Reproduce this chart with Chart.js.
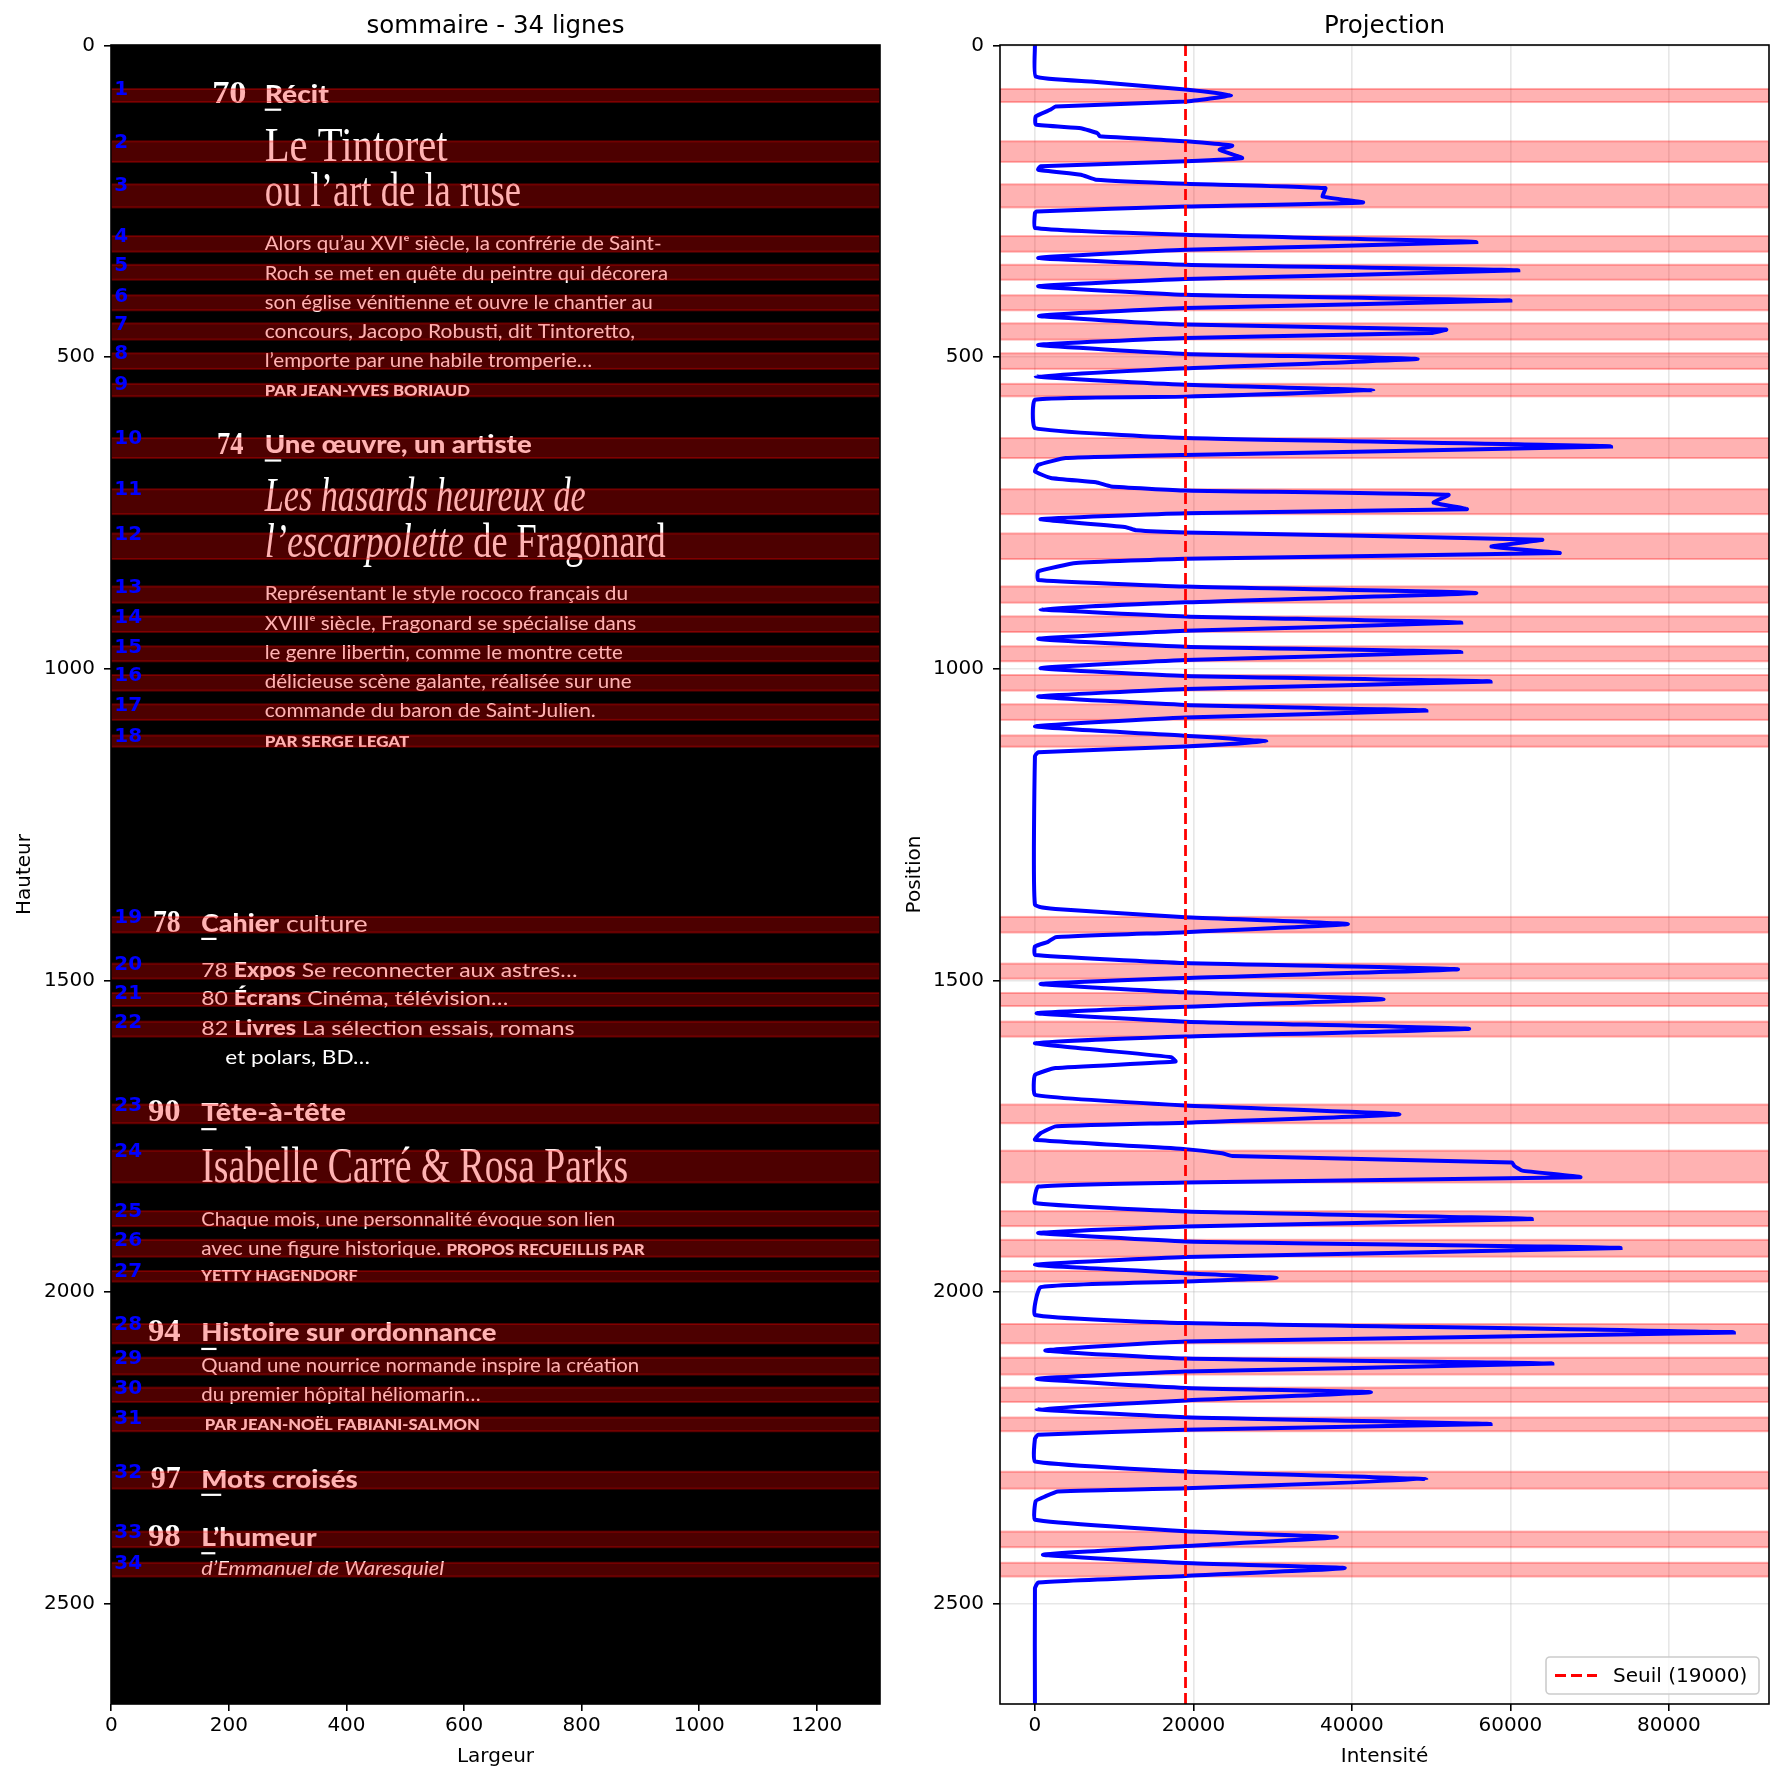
<!DOCTYPE html>
<html lang="fr">
<head>
  <meta charset="UTF-8">
  <title>sommaire - 34 lignes</title>
  <script src="https://cdn.jsdelivr.net/npm/chart.js"></script>
  <style>
    html, body { margin: 0; padding: 0; background: #fff; }
    #wrap { position: relative; width: 1783px; height: 1785px; }
    canvas { position: absolute; top: 0; }
    #left { left: 0; }
    #right { left: 890px; }
  </style>
</head>
<body>
<div id="wrap">
  <canvas id="left" width="890" height="1785"></canvas>
  <canvas id="right" width="893" height="1785"></canvas>
</div>
<script>
  // image size (pixels) of the scanned page
  const imgWidth = 1308;
  const imgHeight = 2661;

  // detected text lines: first and last row of each band
  const bandStart = [70, 154, 223, 306, 352, 401, 446, 494, 543, 630, 712, 783, 868, 916, 964, 1010, 1057, 1107,
    1398, 1473, 1520, 1566, 1699, 1773, 1870, 1916, 1966, 2051, 2105, 2153, 2201, 2288, 2384, 2434];
  const bandEnd = [91, 187, 260, 331, 376, 425, 472, 519, 563, 662, 752, 824, 894, 941, 988, 1035, 1082, 1125,
    1423, 1497, 1541, 1590, 1729, 1824, 1894, 1943, 1983, 2082, 2132, 2176, 2223, 2315, 2409, 2456];

  // horizontal projection profile (row position, summed intensity)
  const profilePos = [0, 50, 58, 71, 80, 90, 98, 103, 114, 127, 133, 141, 146, 154, 161, 167.5, 181, 186, 194, 199.5,
    207.5, 215.5, 222, 229, 242.5, 252, 258.5, 266.5, 269, 293, 304, 315.5, 328, 341, 352, 361, 375, 386.5, 400, 409.5,
    421.5, 434, 448, 456, 461.5, 469.5, 480.5, 495, 503, 518, 531, 544.5, 553.5, 563.5, 568.5, 614, 630, 643.5, 657, 662,
    673, 683.5, 694, 701, 707.5, 714, 721, 733.5, 744, 750.5, 760, 773, 778, 781.5, 793, 804, 814.5, 823.5, 830.5, 844,
    857.5, 868, 878.5, 893.5, 904.5, 916, 926, 939, 952, 964.5, 973, 986, 999, 1011.5, 1020.5, 1032.5, 1044.5, 1058, 1067, 1078,
    1092.5, 1107.5, 1116.5, 1124.5, 1134, 1140, 1378.5, 1385.5, 1398.5, 1409.5, 1422.5, 1430.5, 1438, 1445.5, 1459, 1472,
    1482, 1496, 1505.5, 1519, 1530, 1542, 1552.5, 1566, 1577.5, 1590, 1600.5, 1623, 1630, 1640.5, 1651.5, 1683.5, 1700.5, 1714.5,
    1728, 1734, 1745, 1755.5, 1770.5, 1777, 1781.5, 1792, 1797.5, 1805, 1815.5, 1824, 1830.5, 1857, 1870.5, 1882.5, 1894.5, 1905,
    1918.5, 1929, 1943.5, 1956, 1969.5, 1977, 1983, 1992, 2036.5, 2049.5, 2064.5, 2079, 2093.5, 2106.5, 2114.5, 2127, 2139,
    2153.5, 2160.5, 2173.5, 2187.5, 2200.5, 2211.5, 2220.5, 2228.5, 2235, 2271.5, 2287.5, 2300, 2314.5, 2319.5, 2327.5, 2335,
    2365, 2383.5, 2393, 2407, 2421, 2434.5, 2442.5, 2455, 2465.5, 2475, 2660];
  const profileVal = [0, 100, 7060, 19000, 24750, 19000, 2600, 2000, 100, 100, 5800, 7900, 8200, 19000, 24900, 23300, 26150, 19000, 700, 400,
    5800, 7700, 19000, 36650, 36300, 41400, 19000, 200, 0, 0, 19000, 55700, 19000, 400, 19000, 61000, 19000, 400, 19000, 60000,
    19000, 500, 19000, 51900, 50000, 19000, 400, 19000, 48300, 19000, 100, 19000, 42700, 19000, 0, 0, 19000, 72700, 19000, 3900,
    400, 0, 2000, 7700, 9600, 19000, 52200, 50300, 54500, 19000, 700, 11500, 12800, 19000, 64000, 57600, 66200, 19000, 5200, 400,
    400, 19000, 55700, 19000, 700, 19000, 53800, 19000, 400, 19000, 53800, 19000, 700, 19000, 57500, 19000, 400, 19000, 49400, 19000,
    0, 19000, 29200, 19000, 400, 0, 0, 2600, 19000, 39500, 19000, 2600, 1650, 0, 0, 19000,
    53400, 19000, 700, 19000, 44000, 19000, 200, 19000, 54800, 19000, 0, 17200, 17750, 2600, 0, 0, 19000, 46000,
    19000, 2600, 700, 0, 19000, 23600, 24900, 60200, 60500, 61500, 68800, 19000, 400, 0, 19000, 62700, 19000, 400,
    19000, 73900, 19000, 0, 19000, 30500, 19000, 700, 0, 19000, 88200, 19000, 1300, 19000, 65300, 19000, 200,
    19000, 42400, 19000, 200, 19000, 57500, 19000, 400, 0, 0, 19000, 49400, 19000, 2900, 1300, 100,
    0, 19000, 38100, 19000, 1000, 19000, 39100, 19000, 400, 0, 0];

  const threshold = 19000;

  const posTicks = [0, 500, 1000, 1500, 2000, 2500];
  const widthTicks = [0, 200, 400, 600, 800, 1000, 1200];
  const intensityTicks = [0, 20000, 40000, 60000, 80000];

  // text printed on the page: [x from, x to, baseline row, size, parts]
  const pageLines = [
    [171.6, 230, 92.6, 52, [['70', 'num']]],
    [261, 370, 92.6, 38, [['Récit', 'head']]],
    [261, 572, 186, 78, [['Le Tintoret', 'title']]],
    [261, 697, 257, 78, [['ou l’art de la ruse', 'title']]],
    [261, 936, 329, 31, [['Alors qu’au XVIᵉ siècle, la confrérie de Saint-', 'body']]],
    [261, 947, 376, 31, [['Roch se met en quête du peintre qui décorera', 'body']]],
    [261, 921, 423, 31, [['son église vénitienne et ouvre le chantier au', 'body']]],
    [261, 891, 469.6, 31, [['concours, Jacopo Robusti, dit Tintoretto,', 'body']]],
    [261, 818, 516, 31, [['l’emporte par une habile tromperie…', 'body']]],
    [261, 610, 562, 25, [['PAR JEAN-YVES BORIAUD', 'caps']]],
    [180, 225, 656, 52, [['74', 'num']]],
    [261, 715, 654, 38, [['Une œuvre, un artiste', 'head']]],
    [261, 807, 747.7, 78, [['Les hasards heureux de', 'titleI']]],
    [261, 943, 820, 78, [['l’escarpolette', 'titleI'], [' de Fragonard', 'title']]],
    [261, 879, 890.5, 31, [['Représentant le style rococo français du', 'body']]],
    [261, 893, 937.5, 31, [['XVIIIᵉ siècle, Fragonard se spécialise dans', 'body']]],
    [261, 870, 984.6, 31, [['le genre libertin, comme le montre cette', 'body']]],
    [261, 885, 1031, 31, [['délicieuse scène galante, réalisée sur une', 'body']]],
    [261, 824, 1078, 31, [['commande du baron de Saint-Julien.', 'body']]],
    [261, 507, 1124.7, 25, [['PAR SERGE LEGAT', 'caps']]],
    [71, 118, 1423, 52, [['78', 'num']]],
    [153, 436, 1421.5, 38, [['Cahier', 'head'], [' culture', 'body']]],
    [153, 793, 1493.7, 32, [['78 ', 'body'], ['Expos', 'bodyB'], [' Se reconnecter aux astres…', 'body']]],
    [153, 675, 1540, 32, [['80 ', 'body'], ['Écrans', 'bodyB'], [' Cinéma, télévision…', 'body']]],
    [153, 788, 1587.2, 32, [['82 ', 'body'], ['Livres', 'bodyB'], [' La sélection essais, romans', 'body']]],
    [194, 440, 1633.7, 32, [['et polars, BD…', 'body']]],
    [62.5, 118, 1726, 52, [['90', 'num']]],
    [153, 399, 1726, 38, [['Tête-à-tête', 'head']]],
    [153, 879, 1822.6, 80, [['Isabelle Carré & Rosa Parks', 'title']]],
    [153, 857, 1893, 31, [['Chaque mois, une personnalité évoque son lien', 'body']]],
    [153, 907, 1940, 31, [['avec une figure historique. ', 'body'], ['PROPOS RECUEILLIS PAR', 'caps', 25]]],
    [153, 419, 1982, 25, [['YETTY HAGENDORF', 'caps']]],
    [62.5, 118, 2079, 52, [['94', 'num']]],
    [153, 655, 2079, 38, [['Histoire sur ordonnance', 'head']]],
    [153, 898, 2127.4, 31, [['Quand une nourrice normande inspire la création', 'body']]],
    [153, 628, 2174, 31, [['du premier hôpital héliomarin…', 'body']]],
    [159, 627, 2221, 25, [['PAR JEAN-NOËL FABIANI-SALMON', 'caps']]],
    [67, 118, 2314.5, 52, [['97', 'num']]],
    [153, 419, 2314.5, 38, [['Mots croisés', 'head']]],
    [62.5, 118, 2407, 52, [['98', 'num']]],
    [153, 349, 2407, 38, [['L’humeur', 'head']]],
    [153, 566, 2453.5, 31, [['d’Emmanuel de Waresquiel', 'bodyI']]]
  ];
  // little dashes under the section heads: [x from, x to, row]
  const underlines = [[261, 289, 103.3], [261, 289, 666], [153, 179, 1433.3], [153, 179, 1738.5],
    [153, 179, 2091], [153, 187, 2325], [153, 177, 2418.7]];

  const fonts = {
    num: 'bold {s}px "Liberation Serif"',
    head: '900 {s}px Lato',
    title: '{s}px "Liberation Serif"',
    titleI: 'italic {s}px "Liberation Serif"',
    body: '{s}px Lato',
    bodyB: '900 {s}px Lato',
    bodyI: 'italic {s}px Lato',
    caps: '900 {s}px Lato'
  };
  const fontFor = (style, px) => fonts[style].replace('{s}', px.toFixed(2));

  Chart.defaults.font.family = "'DejaVu Sans', sans-serif";
  Chart.defaults.color = '#000';

  function drawBands(chart) {
    const {ctx, chartArea: a, scales: {y}} = chart;
    ctx.fillStyle = 'rgba(255,0,0,0.3)';
    ctx.strokeStyle = 'rgba(255,0,0,0.3)';
    ctx.lineWidth = 2;
    bandStart.forEach((s, i) => {
      const p0 = y.getPixelForValue(s), p1 = y.getPixelForValue(bandEnd[i]);
      ctx.fillRect(a.left, p0, a.width, p1 - p0);
      ctx.strokeRect(a.left, p0, a.width, p1 - p0);
    });
  }

  // the page picture, its bands and the line numbers
  const pagePlugin = {
    id: 'page',
    beforeDatasetsDraw(chart) {
      const {ctx, chartArea: a, scales: {x, y}} = chart;
      ctx.save();
      ctx.beginPath();
      ctx.rect(a.left, a.top, a.width, a.height);
      ctx.clip();
      ctx.fillStyle = '#000';
      ctx.fillRect(a.left, a.top, a.width, a.height);

      const ky = Math.abs(y.getPixelForValue(1) - y.getPixelForValue(0));
      ctx.fillStyle = '#fff';
      ctx.textBaseline = 'alphabetic';
      ctx.textAlign = 'left';
      pageLines.forEach(([x0, x1, base, size, parts]) => {
        let natural = 0;
        parts.forEach(([t, st, sz]) => {
          ctx.font = fontFor(st, (sz || size) * ky);
          natural += ctx.measureText(t).width;
        });
        const px0 = x.getPixelForValue(x0), px1 = x.getPixelForValue(x1);
        ctx.save();
        ctx.translate(px0, y.getPixelForValue(base));
        ctx.scale((px1 - px0) / natural, 1);
        let cx = 0;
        parts.forEach(([t, st, sz]) => {
          ctx.font = fontFor(st, (sz || size) * ky);
          ctx.fillText(t, cx, 0);
          cx += ctx.measureText(t).width;
        });
        ctx.restore();
      });
      underlines.forEach(([x0, x1, r]) => {
        const px0 = x.getPixelForValue(x0), px1 = x.getPixelForValue(x1);
        ctx.fillRect(px0, y.getPixelForValue(r) - 1.1, px1 - px0, 2.2);
      });

      drawBands(chart);

      ctx.fillStyle = '#0000ff';
      ctx.font = 'bold 20px "DejaVu Sans"';
      ctx.textBaseline = 'middle';
      bandStart.forEach((s, i) => {
        ctx.fillText(String(i + 1), x.getPixelForValue(5), y.getPixelForValue(s) + 1);
      });
      ctx.restore();
    }
  };

  const bandPlugin = {
    id: 'bands',
    beforeDatasetsDraw(chart) {
      const {ctx, chartArea: a} = chart;
      ctx.save();
      ctx.beginPath();
      ctx.rect(a.left, a.top, a.width, a.height);
      ctx.clip();
      drawBands(chart);
      ctx.restore();
    }
  };

  const legendPlugin = {
    id: 'seuilLegend',
    afterDraw(chart) {
      const {ctx, chartArea: a} = chart;
      const w = 213, h = 37;
      const bx = a.right - 10 - w, by = a.bottom - 10 - h;
      ctx.save();
      ctx.beginPath();
      ctx.roundRect(bx, by, w, h, 4);
      ctx.fillStyle = 'rgba(255,255,255,0.8)';
      ctx.fill();
      ctx.strokeStyle = '#cccccc';
      ctx.lineWidth = 1.6;
      ctx.stroke();
      ctx.beginPath();
      ctx.setLineDash([11, 5]);
      ctx.strokeStyle = '#ff0000';
      ctx.lineWidth = 2.8;
      ctx.moveTo(bx + 9, by + h / 2);
      ctx.lineTo(bx + 51, by + h / 2);
      ctx.stroke();
      ctx.setLineDash([]);
      ctx.fillStyle = '#000';
      ctx.font = '20px "DejaVu Sans"';
      ctx.textBaseline = 'middle';
      ctx.fillText(`Seuil (${threshold})`, bx + 67, by + h / 2 + 1);
      ctx.restore();
    }
  };

  const frame = {
    id: 'frame',
    afterDraw(chart, args, opts) {
      const {ctx, chartArea: a} = chart;
      ctx.save();
      ctx.strokeStyle = '#000';
      ctx.lineWidth = 1.6;
      ctx.strokeRect(a.left, a.top, a.width, a.height);
      ctx.fillStyle = '#000';
      ctx.font = '24.5px "DejaVu Sans"';
      ctx.textAlign = 'center';
      ctx.textBaseline = 'alphabetic';
      ctx.fillText(opts.title, (a.left + a.right) / 2, a.top - 12);
      ctx.restore();
    }
  };

  function axis(pos, title, min, max, ticks, inside, boxSize) {
    return {
      type: 'linear',
      position: pos,
      min: min,
      max: max,
      bounds: 'data',
      reverse: pos === 'left',
      afterBuildTicks: s => { s.ticks = ticks.map(v => ({value: v})); },
      afterFit: s => { if (pos === 'left') s.width = boxSize; else s.height = boxSize; },
      ticks: {
        color: '#000', font: {size: 20}, padding: pos === 'left' ? 9 : 3,
        maxRotation: 0, autoSkip: false, callback: v => String(v)
      },
      grid: {
        drawOnChartArea: inside, color: 'rgba(176,176,176,0.3)', lineWidth: 1.6,
        tickLength: 7, tickWidth: 1.6, tickColor: '#000'
      },
      border: {display: false},
      title: {display: true, text: title, color: '#000', font: {size: 20}, padding: {top: 13, bottom: 4}}
    };
  }

  new Chart(document.getElementById('left'), {
    type: 'scatter',
    data: {datasets: []},
    options: {
      responsive: false,
      animation: false,
      devicePixelRatio: 1,
      layout: {padding: {top: 45, right: 10, bottom: 12, left: 0}},
      scales: {
        x: axis('bottom', 'Largeur', -0.5, imgWidth - 0.5, widthTicks, false, 69),
        y: axis('left', 'Hauteur', -0.5, imgHeight - 0.5, posTicks, false, 111)
      },
      plugins: {
        legend: {display: false},
        tooltip: {enabled: false},
        frame: {title: `sommaire - ${bandStart.length} lignes`}
      }
    },
    plugins: [pagePlugin, frame]
  });

  new Chart(document.getElementById('right'), {
    type: 'scatter',
    data: {
      datasets: [
        {
          label: `Seuil (${threshold})`,
          data: [{x: threshold, y: -0.5}, {x: threshold, y: imgHeight - 0.5}],
          showLine: true,
          borderColor: '#ff0000',
          borderDash: [11, 5],
          borderWidth: 2.8,
          pointRadius: 0,
          order: 0
        },
        {
          label: 'Projection',
          data: profilePos.map((p, i) => ({x: profileVal[i], y: p})),
          showLine: true,
          borderColor: '#0000ff',
          borderWidth: 4,
          pointRadius: 0,
          tension: 0.12,
          order: 1
        }
      ]
    },
    options: {
      responsive: false,
      animation: false,
      devicePixelRatio: 1,
      layout: {padding: {top: 45, right: 14, bottom: 12, left: 0}},
      scales: {
        x: axis('bottom', 'Intensité', -4410, 92630, intensityTicks, true, 69),
        y: axis('left', 'Position', -0.5, imgHeight - 0.5, posTicks, true, 110)
      },
      plugins: {
        legend: {display: false},
        tooltip: {enabled: false},
        frame: {title: 'Projection'}
      }
    },
    plugins: [bandPlugin, legendPlugin, frame]
  });
</script>
</body>
</html>
